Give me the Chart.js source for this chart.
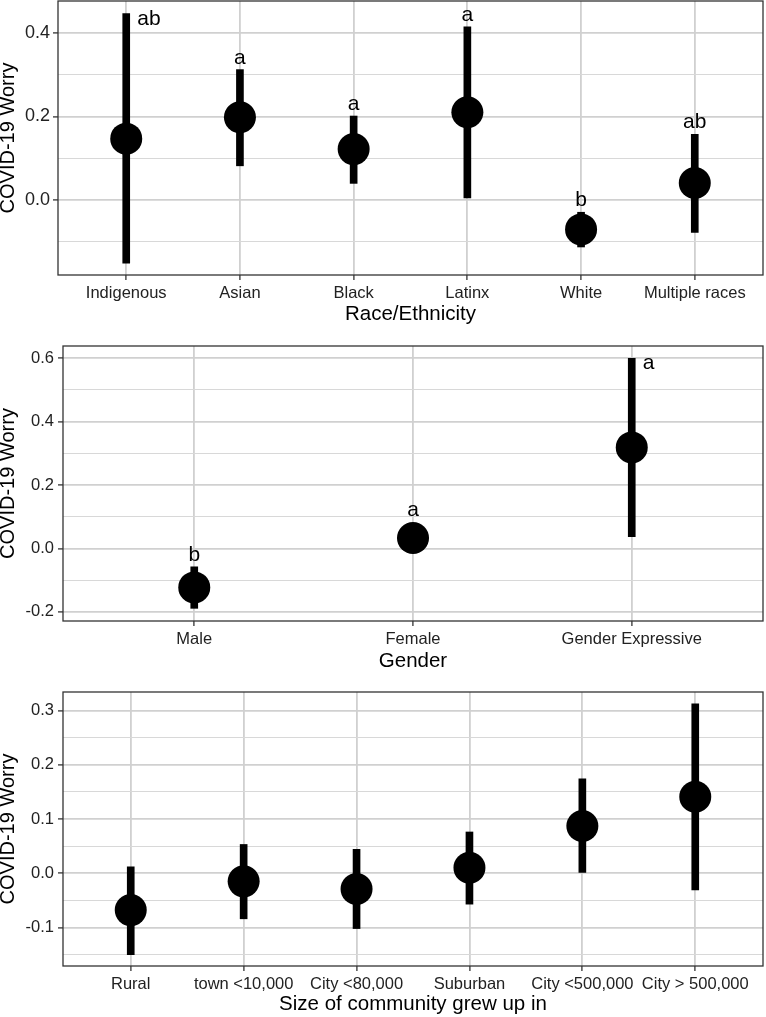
<!DOCTYPE html>
<html><head><meta charset="utf-8">
<script src="https://cdn.jsdelivr.net/npm/chart.js@4.4.1/dist/chart.umd.min.js"></script>
<style>
html,body{margin:0;padding:0;background:#fff;width:766px;height:1017px;overflow:hidden}
canvas{position:absolute;left:0}
</style></head><body>
<canvas id="c1" width="766" height="330" style="top:0px"></canvas>
<canvas id="c2" width="766" height="345" style="top:330px"></canvas>
<canvas id="c3" width="766" height="342" style="top:675px"></canvas>
<script>
// ---------- data ----------
const raceCategories = ['Indigenous','Asian','Black','Latinx','White','Multiple races'];
const raceMean  = [0.147, 0.198, 0.122, 0.210, -0.070, 0.041];
const raceLower = [-0.151, 0.082, 0.040, 0.005, -0.112, -0.077];
const raceUpper = [0.446, 0.312, 0.201, 0.414, -0.029, 0.157];
const raceLetters = ['ab','a','a','a','b','ab'];
const raceYMajor = [0, 0.2, 0.4];
const raceYLabels = ['0.0','0.2','0.4'];
const raceYMinor = [-0.1, 0.1, 0.3];
const raceYRange = [-0.179, 0.476];

const genderCategories = ['Male','Female','Gender Expressive'];
const genderMean  = [-0.123, 0.033, 0.319];
const genderLower = [-0.189, 0.006, 0.037];
const genderUpper = [-0.058, 0.060, 0.600];
const genderLetters = ['b','a','a'];
const genderYMajor = [-0.2, 0, 0.2, 0.4, 0.6];
const genderYLabels = ['-0.2','0.0','0.2','0.4','0.6'];
const genderYMinor = [-0.1, 0.1, 0.3, 0.5];
const genderYRange = [-0.229, 0.639];

const communityCategories = ['Rural','town <10,000','City <80,000','Suburban','City <500,000','City > 500,000'];
const communityMean  = [-0.068, -0.015, -0.029, 0.010, 0.087, 0.141];
const communityLower = [-0.150, -0.084, -0.102, -0.057, 0.000, -0.031];
const communityUpper = [0.012, 0.053, 0.044, 0.076, 0.174, 0.312];
const communityLetters = [];
const communityYMajor = [-0.1, 0, 0.1, 0.2, 0.3];
const communityYLabels = ['-0.1','0.0','0.1','0.2','0.3'];
const communityYMinor = [-0.15, -0.05, 0.05, 0.15, 0.25];
const communityYRange = [-0.171, 0.334];

// ---------- drawing ----------
const FAMILY = '"Liberation Sans", Arial, Helvetica, sans-serif';
Chart.defaults.font.family = FAMILY;
const R = 16;

const decor = {
  id: 'decor',
  afterDatasetsDraw(chart, args, opts) {
    const {ctx, chartArea: a, scales: {x, y}} = chart;
    const letters = opts.letters || [];
    const bars = chart.data.datasets[0].data;
    const pts = chart.data.datasets[1].data;
    ctx.save();
    ctx.fillStyle = '#000';
    ctx.font = '21px ' + FAMILY;
    ctx.textBaseline = 'alphabetic';
    letters.forEach((t, i) => {
      if (!t) return;
      const px = x.getPixelForValue(bars[i].x);
      const up = y.getPixelForValue(bars[i].y[1]);
      const ptTop = y.getPixelForValue(pts[i].y) - R;
      const base = Math.min(up, ptTop) - 6;
      if (base - 16 < a.top) {
        ctx.textAlign = 'left';
        ctx.fillText(t, px + 11, up + 11);
      } else {
        ctx.textAlign = 'center';
        ctx.fillText(t, px, base);
      }
    });
    ctx.restore();
  },
  afterDraw(chart) {
    const {ctx, chartArea: a} = chart;
    ctx.save();
    ctx.strokeStyle = '#333';
    ctx.lineWidth = 1.3;
    ctx.strokeRect(a.left, a.top, a.right - a.left, a.bottom - a.top);
    ctx.restore();
  }
};

function makePanel(id, d, g) {
  const isMajor = v => d.yMajor.some(m => Math.abs(m - v) < 1e-9);
  const n = d.categories.length;
  new Chart(document.getElementById(id), {
    type: 'bar',
    data: {
      datasets: [
        {
          type: 'bar',
          data: d.categories.map((c, i) => ({x: i, y: [d.lower[i], d.upper[i]]})),
          backgroundColor: '#000', borderWidth: 0, barThickness: 7, grouped: false
        },
        {
          type: 'scatter',
          data: d.categories.map((c, i) => ({x: i, y: d.mean[i]})),
          pointRadius: R, pointHoverRadius: R, pointBackgroundColor: '#000',
          pointBorderWidth: 0, showLine: false
        }
      ]
    },
    options: {
      responsive: false, animation: false, events: [],
      layout: {autoPadding: false, padding: {top: g.padTop, right: 3, left: 0, bottom: 0}},
      plugins: {legend: {display: false}, tooltip: {enabled: false}, decor: {letters: d.letters}},
      scales: {
        x: {
          type: 'linear', offset: false, min: -0.6, max: n - 1 + 0.6,
          afterBuildTicks: s => { s.ticks = d.categories.map((c, i) => ({value: i})); },
          afterFit: s => { s.height = g.xHeight; s.paddingLeft = 0; s.paddingRight = 0; },
          ticks: {
            autoSkip: false, maxRotation: 0, minRotation: 0, padding: 4,
            color: '#222', font: {size: 16.5},
            callback: v => d.categories[Math.round(v)]
          },
          grid: {offset: false, color: '#d0d0d0', lineWidth: 1.8, tickLength: 5, tickColor: '#333', tickWidth: 1.3},
          border: {display: false},
          title: {display: true, text: d.title, color: '#000', font: {size: 20.5, lineHeight: 1.2},
                  padding: {top: 0, bottom: g.titlePad}}
        },
        y: {
          type: 'linear', min: d.yRange[0], max: d.yRange[1],
          afterBuildTicks: s => {
            s.ticks = d.yMajor.concat(d.yMinor).sort((a, b) => a - b).map(v => ({value: v}));
          },
          afterFit: s => { s.width = g.yWidth; s.paddingTop = 0; s.paddingBottom = 0; },
          ticks: {
            autoSkip: false, padding: g.yTickPad, color: '#222', font: {size: g.yTickSize},
            callback: v => {
              const k = d.yMajor.findIndex(m => Math.abs(m - v) < 1e-9);
              return k >= 0 ? d.yLabels[k] : '';
            }
          },
          grid: {
            color: c => isMajor(c.tick.value) ? '#d0d0d0' : '#d8d8d8',
            lineWidth: c => isMajor(c.tick.value) ? 1.8 : 1.1,
            tickLength: 5,
            tickColor: c => isMajor(c.tick.value) ? '#333' : 'rgba(0,0,0,0)',
            tickWidth: 1.3
          },
          border: {display: false},
          title: {display: true, text: 'COVID-19 Worry', color: '#000',
                  font: {size: 20, lineHeight: 0.85}, padding: 0}
        }
      }
    },
    plugins: [decor]
  });
}

makePanel('c1', {
  categories: raceCategories, mean: raceMean, lower: raceLower, upper: raceUpper,
  letters: raceLetters, yMajor: raceYMajor, yLabels: raceYLabels, yMinor: raceYMinor,
  yRange: raceYRange, title: 'Race/Ethnicity'
}, {padTop: 1, xHeight: 55, yWidth: 58, titlePad: 3, yTickPad: 3, yTickSize: 18});

makePanel('c2', {
  categories: genderCategories, mean: genderMean, lower: genderLower, upper: genderUpper,
  letters: genderLetters, yMajor: genderYMajor, yLabels: genderYLabels, yMinor: genderYMinor,
  yRange: genderYRange, title: 'Gender'
}, {padTop: 16, xHeight: 54, yWidth: 63, titlePad: 1, yTickPad: 4, yTickSize: 16.5});

makePanel('c3', {
  categories: communityCategories, mean: communityMean, lower: communityLower, upper: communityUpper,
  letters: communityLetters, yMajor: communityYMajor, yLabels: communityYLabels, yMinor: communityYMinor,
  yRange: communityYRange, title: 'Size of community grew up in'
}, {padTop: 17, xHeight: 51, yWidth: 63, titlePad: 0, yTickPad: 4, yTickSize: 16.5});
</script>
</body></html>
